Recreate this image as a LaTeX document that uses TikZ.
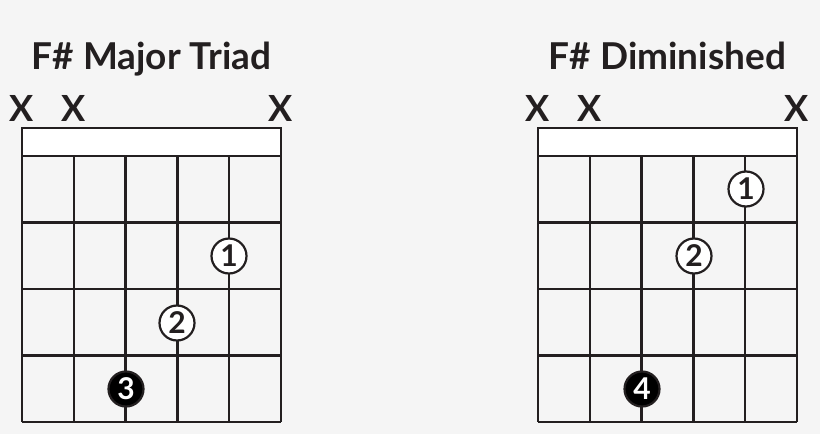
\documentclass[tikz,border=0pt]{standalone}
\usepackage{fontspec}
\setmainfont{Lato}
\definecolor{bg}{HTML}{F5F5F5}
\definecolor{ink}{HTML}{231F20}
\tikzset{
  fret/.style={draw=ink, line width=2.3pt},
  nutbox/.style={fret, fill=white},
  title/.style={anchor=base, text=ink, font=\fontsize{37}{40}\bfseries\selectfont},
  mute/.style={anchor=base, text=ink, font=\fontsize{36}{40}\bfseries\selectfont},
  finger/.style={circle, draw=ink, fill=white, line width=2.2pt, minimum size=35pt, inner sep=0pt, text=ink, font=\fontsize{30}{32}\bfseries\selectfont},
  fingerfill/.style={finger, fill=black, text=white},
}
\begin{document}
\begin{tikzpicture}[x=1pt,y=-1pt]
\fill[bg] (0,0) rectangle (820,434);
\useasboundingbox (0,0) rectangle (820,434);
\def\chart#1#2#3{
\def\sx{51.8}
\def\fy{66.5}
\filldraw[nutbox] (#1,128) rectangle ++(5*\sx,28);
\foreach \s in {0,...,5} \draw[fret] (#1+\s*\sx,156) -- ++(0,4*\fy);
\foreach \f in {1,...,4} \draw[fret] (#1,156+\f*\fy) -- ++(5*\sx,0);
\node[title] (#3title) at (#1+2.5*\sx,69) {#2};
\node[mute] (#3x6) at (#1,121) {X};
\node[mute] (#3x5) at (#1+\sx,121) {X};
\node[mute] (#3x1) at (#1+5*\sx,121) {X};
}
% major triad
\chart{22}{F\# Major Triad}{maj}
\node[finger] (majf1) at (229,256) {1};
\node[finger] (majf2) at (177,323) {2};
\node[fingerfill] (majf3) at (126,389) {3};
% diminished
\chart{538}{F\# Diminished}{dim}
\node[finger] (dimf1) at (746,189) {1};
\node[finger] (dimf2) at (694,256) {2};
\node[fingerfill] (dimf4) at (642,389) {4};
\end{tikzpicture}
\end{document}
